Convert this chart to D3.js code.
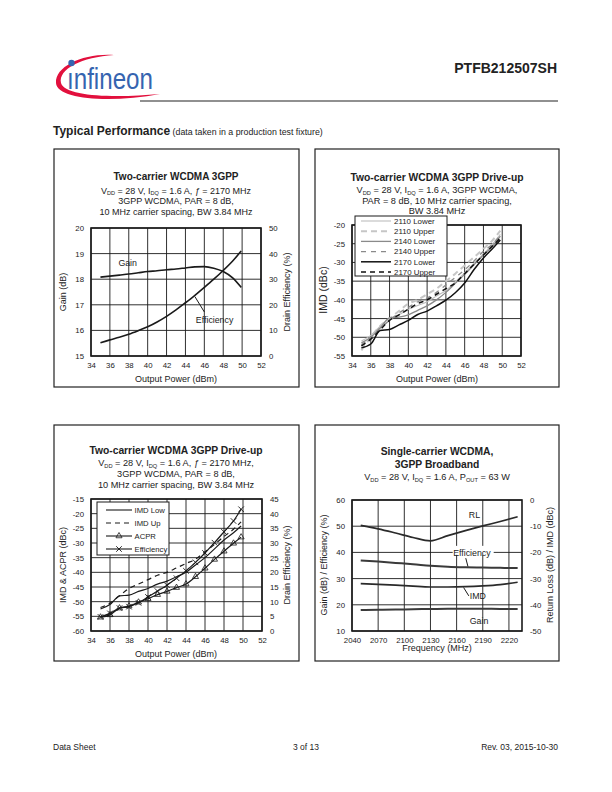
<!DOCTYPE html>
<html><head><meta charset="utf-8">
<script src="https://cdn.jsdelivr.net/npm/d3@7"></script>
<style>
body{margin:0;background:#fff}
svg{display:block}
text{font-family:"Liberation Sans",Arial,Helvetica,sans-serif;fill:#222}
</style>
</head><body>
<svg id="page" width="612" height="792"></svg>
<script>
// ---------------- DATA ----------------
// Chart 1: Two-carrier WCDMA 3GPP (gain & efficiency vs output power)
const c1Power = [35, 36, 37, 38, 39, 40, 41, 42, 43, 44, 45, 46, 47, 48, 49, 49.9];
const c1Gain  = [18.08, 18.12, 18.16, 18.2, 18.25, 18.3, 18.33, 18.37, 18.4, 18.44, 18.48, 18.49, 18.43, 18.3, 18.05, 17.68];
const c1Eff   = [5.2, 6.3, 7.3, 8.5, 9.9, 11.4, 13.3, 15.5, 18.0, 20.8, 23.7, 26.8, 30.0, 33.4, 37.1, 41.0];
const c1XTicks = [34, 36, 38, 40, 42, 44, 46, 48, 50, 52];
const c1YTicks = [15, 16, 17, 18, 19, 20];
const c1Y2Ticks = [0, 10, 20, 30, 40, 50];

// Chart 2: Two-carrier WCDMA 3GPP Drive-up (IMD vs output power, 3 frequencies)
const c2Power = [35, 36, 37, 38, 39, 40, 41, 42, 43, 44, 45, 46, 47, 48, 49, 49.8];
const c2Names = ["2110 Lower", "2110 Upper", "2140 Lower", "2140 Upper", "2170 Lower", "2170 Upper"];
const imd2110Lower = [-51, -49.5, -47, -45, -44, -42.5, -41.5, -40.5, -39, -37.5, -35.2, -32.8, -30.2, -27.8, -25, -22.5];
const imd2110Upper = [-53.5, -50, -47, -45, -43, -41, -40, -38.5, -37, -35, -33, -30.8, -28.6, -26.4, -24, -21.5];
const imd2140Lower = [-51.5, -50, -47.5, -44.8, -44.6, -44, -42.8, -41.6, -40, -38, -35.6, -33.2, -30.6, -28, -25.6, -23];
const imd2140Upper = [-52, -50, -47.5, -45.5, -43.5, -42, -40.5, -39.5, -38, -36, -34, -32, -29.6, -27, -25, -22.8];
const imd2170Lower = [-52.8, -51.8, -48.2, -47.9, -46.7, -45.5, -43.9, -43, -41.6, -40.1, -38.1, -35.5, -31.9, -28.8, -26.2, -24];
const imd2170Upper = [-52.3, -50.5, -48, -45.5, -44, -42.5, -41, -40, -38.5, -37, -35.5, -33, -30.5, -28, -25.5, -23.5];
const c2XTicks = [34, 36, 38, 40, 42, 44, 46, 48, 50, 52];
const c2YTicks = [-55, -50, -45, -40, -35, -30, -25, -20];

// Chart 3: Two-carrier WCDMA 3GPP Drive-up (IMD, ACPR, efficiency at 2170 MHz)
const c3Power = [35, 36, 37, 38, 39, 40, 41, 42, 43, 44, 45, 46, 47, 48, 49, 49.8];
const c3ImdLow = [-52.5, -51, -48, -47.8, -46.5, -45.5, -44, -43, -41.5, -40, -37.5, -35, -32, -29, -26.5, -24.2];
const c3ImdUp  = [-52, -50.5, -48, -45.5, -44, -42.5, -41, -40, -38.5, -37, -35.5, -33, -30.5, -27.8, -25.3, -22.8];
const c3Acpr   = [-55.3, -54.5, -52.2, -51.5, -50.2, -49, -47.6, -46.5, -45.2, -44, -41.5, -38.6, -35.6, -32.8, -30.1, -28];
const c3Eff    = [4.8, 6.0, 7.8, 8.3, 9.6, 11.6, 13.6, 15.6, 18.0, 20.5, 23.4, 26.6, 30.1, 33.8, 37.5, 41.5];
const c3XTicks = [34, 36, 38, 40, 42, 44, 46, 48, 50, 52];
const c3YTicks = [-60, -55, -50, -45, -40, -35, -30, -25, -20, -15];
const c3Y2Ticks = [0, 5, 10, 15, 20, 25, 30, 35, 40, 45];

// Chart 4: Single-carrier WCDMA broadband (vs frequency)
const c4Freq = [2050, 2070, 2090, 2110, 2130, 2150, 2170, 2190, 2210, 2230];
const c4RL   = [-9.7, -11.0, -12.6, -14.3, -15.6, -13.6, -11.7, -9.9, -8.2, -6.4];
const c4Eff  = [36.9, 36.5, 36.0, 35.5, 34.9, 34.5, 34.3, 34.2, 34.1, 34.0];
const c4Imd  = [-31.9, -32.2, -32.5, -32.9, -33.2, -33.2, -33.1, -32.8, -32.3, -31.4];
const c4Gain = [18.0, 18.1, 18.2, 18.3, 18.4, 18.5, 18.5, 18.5, 18.4, 18.4];
const c4XTicks = [2040, 2070, 2100, 2130, 2160, 2190, 2220];
const c4YTicks = [10, 20, 30, 40, 50, 60];
const c4Y2Ticks = [-50, -40, -30, -20, -10, 0];

// ---------------- HELPERS ----------------
const svg = d3.select("#page");
const INK = "#1a1a1a";
const fmtTick = d => String(d);   // plain hyphen minus, as in the original

function richText(parent, x, y, parts, size, weight, anchor) {
  const t = parent.append("text").attr("x", x).attr("y", y)
    .attr("text-anchor", anchor || "middle").attr("font-size", size)
    .attr("font-weight", weight || "normal");
  let shifted = false;
  parts.forEach(p => {
    let s;
    if (Array.isArray(p)) {
      s = t.append("tspan").attr("font-size", size * 0.62).text(p[0]);
      if (!shifted) s.attr("dy", size * 0.22);
      shifted = true;
    } else if (typeof p === "object") {
      s = t.append("tspan").attr("font-style", "italic").text(p.it);
      if (shifted) { s.attr("dy", -size * 0.22); shifted = false; }
    } else {
      s = t.append("tspan").text(p);
      if (shifted) { s.attr("dy", -size * 0.22); shifted = false; }
    }
  });
  return t;
}

function gridAndFrame(g, x, y, xTicks, yTicks) {
  const [x0, x1] = x.range(), [yb, yt] = y.range();
  g.append("g").selectAll("line").data(xTicks).join("line")
    .attr("x1", d => x(d)).attr("x2", d => x(d)).attr("y1", yb).attr("y2", yt)
    .attr("stroke", INK).attr("stroke-width", 0.9);
  g.append("g").selectAll("line").data(yTicks).join("line")
    .attr("y1", d => y(d)).attr("y2", d => y(d)).attr("x1", x0).attr("x2", x1)
    .attr("stroke", INK).attr("stroke-width", 0.9);
  g.append("rect").attr("x", x0).attr("y", yt).attr("width", x1 - x0).attr("height", yb - yt)
    .attr("fill", "none").attr("stroke", INK).attr("stroke-width", 1.6);
}

function styleAxis(sel) {
  sel.select(".domain").remove();
  sel.attr("font-family", null).attr("font-size", null);
  sel.selectAll("text").attr("font-size", 7.8).attr("fill", "#333");
}

function axisBottom(g, x, ticks) {
  g.append("g").attr("transform", `translate(0,${x.__yb})`)
    .call(d3.axisBottom(x).tickValues(ticks).tickSize(0).tickPadding(6).tickFormat(fmtTick))
    .call(styleAxis);
}
function axisLeft(g, y, ticks, x0) {
  g.append("g").attr("transform", `translate(${x0},0)`)
    .call(d3.axisLeft(y).tickValues(ticks).tickSize(0).tickPadding(7).tickFormat(fmtTick))
    .call(styleAxis);
}
function axisRight(g, y, ticks, x1) {
  g.append("g").attr("transform", `translate(${x1},0)`)
    .call(d3.axisRight(y).tickValues(ticks).tickSize(0).tickPadding(8).tickFormat(fmtTick))
    .call(styleAxis);
}
function vLabel(g, x, y, txt, size) {
  g.append("text").attr("transform", `translate(${x},${y}) rotate(-90)`)
    .attr("text-anchor", "middle").attr("dy", "0.35em").attr("font-size", size || 9).attr("fill", "#333").text(txt);
}
function hLabel(g, x, y, txt, size) {
  g.append("text").attr("x", x).attr("y", y).attr("text-anchor", "middle")
    .attr("font-size", size || 9).attr("fill", "#333").text(txt);
}
function drawLine(g, xs, ys, x, y, style) {
  const pts = xs.map((v, i) => [v, ys[i]]);
  const p = g.append("path").datum(pts)
    .attr("d", d3.line().x(d => x(d[0])).y(d => y(d[1])).curve(d3.curveMonotoneX))
    .attr("fill", "none").attr("stroke", style.color).attr("stroke-width", style.width)
    .attr("stroke-linejoin", "round");
  if (style.dash) p.attr("stroke-dasharray", style.dash);
  return pts;
}
function panel(x0, y0, x1, y1) {
  svg.append("rect").attr("x", x0).attr("y", y0).attr("width", x1 - x0).attr("height", y1 - y0)
    .attr("fill", "none").attr("stroke", "#222").attr("stroke-width", 1.2);
}

// ---------------- HEADER ----------------
const logo = svg.append("g");
logo.append("path")
  .attr("d", "M114 55 C84 53 55 66 56 83 C57 100 112 103 160 94 C116 98 65 97 61 83 C58 69 82 57 114 55 Z")
  .attr("fill", "#e2103d");
logo.append("text").attr("x", 67).attr("y", 89).attr("font-size", 30)
  .attr("font-family", '"Liberation Sans Narrow","Liberation Sans",Arial,sans-serif')
  .attr("textLength", 86).attr("lengthAdjust", "spacingAndGlyphs")
  .style("fill", "#3564b0").text("\u0131nfineon");
logo.append("circle").attr("cx", 71.5).attr("cy", 63).attr("r", 3.2).attr("fill", "#3564b0");

svg.append("text").attr("x", 557).attr("y", 73).attr("text-anchor", "end")
  .attr("font-size", 14).attr("font-weight", "bold").text("PTFB212507SH");
svg.append("line").attr("x1", 140).attr("x2", 558).attr("y1", 101).attr("y2", 101)
  .attr("stroke", "#222").attr("stroke-width", 1.2);

const tp = svg.append("text").attr("x", 53).attr("y", 135);
tp.append("tspan").attr("font-size", 12).attr("font-weight", "bold").text("Typical Performance");
tp.append("tspan").attr("font-size", 8.8).text(" (data taken in a production test fixture)");

// footer
svg.append("text").attr("x", 53).attr("y", 750).attr("font-size", 8.5).text("Data Sheet");
svg.append("text").attr("x", 306).attr("y", 750).attr("font-size", 8.5).attr("text-anchor", "middle").text("3 of 13");
svg.append("text").attr("x", 558).attr("y", 750).attr("font-size", 8.5).attr("text-anchor", "end").text("Rev. 03, 2015-10-30");

// panels
panel(54, 149, 299, 387);
panel(315, 149, 559, 387);
panel(54, 425, 299, 661);
panel(315, 425, 559, 661);

// ---------------- CHART 1 ----------------
{
  const g = svg.append("g");
  const x = d3.scaleLinear().domain([34, 52]).range([91, 261]);
  const y = d3.scaleLinear().domain([15, 20]).range([356, 228]);
  const y2 = d3.scaleLinear().domain([0, 50]).range([356, 228]);
  x.__yb = 356;
  richText(g, 176, 180, ["Two-carrier WCDMA 3GPP"], 10, "bold");
  richText(g, 176, 193.5, ["V", ["DD"], " = 28 V, I", ["DQ"], " = 1.6 A, ", {it: "ƒ"}, " = 2170 MHz"], 9);
  richText(g, 176, 204, ["3GPP  WCDMA, PAR = 8 dB,"], 9);
  richText(g, 176, 214.5, ["10 MHz carrier spacing, BW 3.84 MHz"], 9);
  gridAndFrame(g, x, y, c1XTicks, c1YTicks);
  axisBottom(g, x, c1XTicks);
  axisLeft(g, y, c1YTicks, 91);
  axisRight(g, y2, c1Y2Ticks, 261);
  hLabel(g, 176, 381.5, "Output Power (dBm)");
  vLabel(g, 63, 292, "Gain (dB)");
  vLabel(g, 287, 292, "Drain Efficiency (%)");
  drawLine(g, c1Power, c1Gain, x, y, {color: INK, width: 1.6});
  drawLine(g, c1Power, c1Eff, x, y2, {color: INK, width: 1.6});
  g.append("text").attr("x", x(36.9)).attr("y", y(18.5)).attr("font-size", 8.8).text("Gain");
  g.append("text").attr("x", x(45.1)).attr("y", y2(12.8)).attr("font-size", 8.8).text("Efficiency");
  g.append("line").attr("x1", x(46.0)).attr("y1", y2(17.2)).attr("x2", x(45.0)).attr("y2", y2(23.2))
    .attr("stroke", INK).attr("stroke-width", 1);
}

// ---------------- CHART 2 ----------------
{
  const g = svg.append("g");
  const x = d3.scaleLinear().domain([34, 52]).range([352, 521]);
  const y = d3.scaleLinear().domain([-55, -20]).range([356, 225]);
  x.__yb = 356;
  richText(g, 437, 181, ["Two-carrier WCDMA 3GPP Drive-up"], 10.3, "bold");
  richText(g, 437, 193, ["V", ["DD"], " = 28 V, I", ["DQ"], " = 1.6 A, 3GPP WCDMA,"], 9.2);
  richText(g, 437, 203.5, ["PAR = 8 dB, 10 MHz carrier spacing,"], 9.2);
  richText(g, 437, 213.5, ["BW 3.84 MHz"], 9.2);
  gridAndFrame(g, x, y, c2XTicks, c2YTicks);
  axisBottom(g, x, c2XTicks);
  axisLeft(g, y, c2YTicks, 352);
  hLabel(g, 437, 381.5, "Output Power (dBm)");
  vLabel(g, 323, 290, "IMD (dBc)", 10.5);
  const series = [imd2110Lower, imd2110Upper, imd2140Lower, imd2140Upper, imd2170Lower, imd2170Upper];
  const styles = [
    {color: "#bdbdbd", width: 1.1},
    {color: "#c6c6c6", width: 2, dash: "6,4"},
    {color: "#8a8a8a", width: 1.3},
    {color: "#8a8a8a", width: 1.3, dash: "5,5"},
    {color: "#111", width: 1.5},
    {color: "#111", width: 1.5, dash: "5,4"}
  ];
  series.forEach((s, i) => drawLine(g, c2Power, s, x, y, styles[i]));
  // legend
  const lg = g.append("g");
  lg.append("rect").attr("x", 355).attr("y", 216).attr("width", 92).attr("height", 60)
    .attr("fill", "#fff").attr("stroke", INK).attr("stroke-width", 1);
  const ly = d3.scalePoint().domain(c2Names).range([221, 272]);
  c2Names.forEach((n, i) => {
    const l = lg.append("line").attr("x1", 361).attr("x2", 391).attr("y1", ly(n)).attr("y2", ly(n))
      .attr("stroke", styles[i].color).attr("stroke-width", styles[i].width);
    if (styles[i].dash) l.attr("stroke-dasharray", styles[i].dash);
    lg.append("text").attr("x", 394).attr("y", ly(n)).attr("dy", "0.35em").attr("font-size", 7.9).text(n);
  });
}

// ---------------- CHART 3 ----------------
{
  const g = svg.append("g");
  const x = d3.scaleLinear().domain([34, 52]).range([91, 262]);
  const y = d3.scaleLinear().domain([-60, -15]).range([631, 499]);
  const y2 = d3.scaleLinear().domain([0, 45]).range([631, 499]);
  x.__yb = 631;
  richText(g, 176, 454, ["Two-carrier WCDMA 3GPP Drive-up"], 10.3, "bold");
  richText(g, 176, 465.5, ["V", ["DD"], " = 28 V, I", ["DQ"], " = 1.6 A, ", {it: "ƒ"}, " = 2170 MHz,"], 9.2);
  richText(g, 176, 476.5, ["3GPP WCDMA, PAR = 8 dB,"], 9.2);
  richText(g, 176, 487.5, ["10 MHz carrier spacing, BW 3.84 MHz"], 9.2);
  gridAndFrame(g, x, y, c3XTicks, c3YTicks);
  axisBottom(g, x, c3XTicks);
  axisLeft(g, y, c3YTicks, 91);
  axisRight(g, y2, c3Y2Ticks, 262);
  hLabel(g, 176, 656.5, "Output Power (dBm)");
  vLabel(g, 63, 565, "IMD & ACPR (dBc)");
  vLabel(g, 287, 565, "Drain Efficiency (%)");
  const st = {color: INK, width: 1.2};
  drawLine(g, c3Power, c3ImdLow, x, y, st);
  drawLine(g, c3Power, c3ImdUp, x, y, {color: INK, width: 1.2, dash: "5,4"});
  const acprPts = drawLine(g, c3Power, c3Acpr, x, y, st);
  const effPts = drawLine(g, c3Power, c3Eff, x, y2, st);
  const tri = d3.symbol().type(d3.symbolTriangle).size(16);
  const cross = d3.symbol().type(d3.symbolX).size(22);
  g.append("g").selectAll("path").data(acprPts).join("path")
    .attr("transform", d => `translate(${x(d[0])},${y(d[1])})`).attr("d", tri)
    .attr("fill", "none").attr("stroke", INK).attr("stroke-width", 0.8);
  g.append("g").selectAll("path").data(effPts).join("path")
    .attr("transform", d => `translate(${x(d[0])},${y2(d[1])})`).attr("d", cross)
    .attr("fill", "none").attr("stroke", INK).attr("stroke-width", 0.9);
  // legend
  const names = ["IMD Low", "IMD Up", "ACPR", "Efficiency"];
  const lg = g.append("g");
  lg.append("rect").attr("x", 97).attr("y", 502).attr("width", 72).attr("height", 53)
    .attr("fill", "#fff").attr("stroke", INK).attr("stroke-width", 1);
  const ly = d3.scalePoint().domain(names).range([510, 549]);
  names.forEach((n, i) => {
    const l = lg.append("line").attr("x1", 106).attr("x2", 132).attr("y1", ly(n)).attr("y2", ly(n))
      .attr("stroke", INK).attr("stroke-width", 1.1);
    if (i === 1) l.attr("stroke-dasharray", "5,4");
    if (i === 2) lg.append("path").attr("transform", `translate(119,${ly(n)})`).attr("d", tri)
      .attr("fill", "none").attr("stroke", INK).attr("stroke-width", 0.8);
    if (i === 3) lg.append("path").attr("transform", `translate(119,${ly(n)})`).attr("d", cross)
      .attr("fill", "none").attr("stroke", INK).attr("stroke-width", 0.9);
    lg.append("text").attr("x", 134.5).attr("y", ly(n)).attr("dy", "0.35em").attr("font-size", 7.7).text(n);
  });
}

// ---------------- CHART 4 ----------------
{
  const g = svg.append("g");
  const x = d3.scaleLinear().domain([2040, 2235]).range([352, 522]);
  const y = d3.scaleLinear().domain([10, 60]).range([631, 500]);
  const y2 = d3.scaleLinear().domain([-50, 0]).range([631, 500]);
  x.__yb = 631;
  richText(g, 437, 455, ["Single-carrier WCDMA,"], 10.3, "bold");
  richText(g, 437, 467.5, ["3GPP Broadband"], 10.3, "bold");
  richText(g, 437, 480, ["V", ["DD"], " = 28 V, I", ["DQ"], " = 1.6 A, P", ["OUT"], " = 63 W"], 9.2);
  gridAndFrame(g, x, y, c4XTicks, c4YTicks);
  axisBottom(g, x, c4XTicks);
  axisLeft(g, y, c4YTicks, 352);
  axisRight(g, y2, c4Y2Ticks, 522);
  hLabel(g, 437, 651, "Frequency (MHz)");
  vLabel(g, 324, 565, "Gain (dB) / Efficiency (%)");
  vLabel(g, 550, 565, "Return Loss (dB) / IMD (dBc)");
  drawLine(g, c4Freq, c4RL, x, y2, {color: "#2a2a2a", width: 1.7});
  drawLine(g, c4Freq, c4Eff, x, y, {color: "#3a3a3a", width: 2});
  drawLine(g, c4Freq, c4Imd, x, y2, {color: "#2a2a2a", width: 1.7});
  drawLine(g, c4Freq, c4Gain, x, y, {color: "#3a3a3a", width: 2});
  const lbl = (f, v, t) => g.append("text").attr("x", x(f)).attr("y", y(v)).attr("font-size", 8.8).text(t);
  // white backing behind "Efficiency" label (it sits on a gridline)
  g.append("rect").attr("x", x(2155.5)).attr("y", y(42.5)).attr("width", 41).attr("height", 9).attr("fill", "#fff");
  lbl(2174, 53.3, "RL");
  lbl(2156, 38.7, "Efficiency");
  lbl(2175, 22.2, "IMD");
  lbl(2175, 12.8, "Gain");
  g.append("line").attr("x1", x(2170.5)).attr("y1", y(37.8)).attr("x2", x(2173)).attr("y2", y(34.6))
    .attr("stroke", INK).attr("stroke-width", 1);
  g.append("line").attr("x1", x(2168)).attr("y1", y(26.6)).attr("x2", x(2174)).attr("y2", y(23.4))
    .attr("stroke", INK).attr("stroke-width", 1);
}
</script>
</body></html>
